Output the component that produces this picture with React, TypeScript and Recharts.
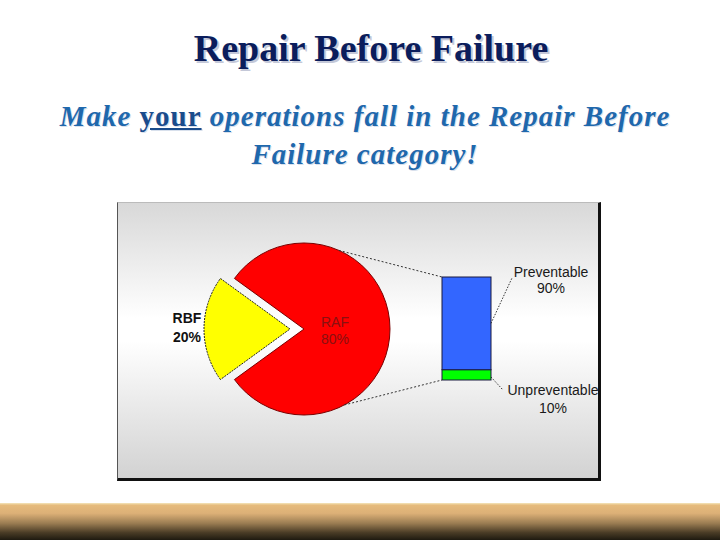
import React from "react";
import { PieChart, Pie, Cell, BarChart, Bar, XAxis, YAxis } from "recharts";

// pie: share of repair types (percent)
const pieNames = ["RAF", "RBF"];
const pieValues = [80, 20];
const pieColors = ["#ff0000", "#ffff00"];

// breakdown bar of the RAF slice (percent)
const barNames = ["Unpreventable", "Preventable"];
const barValues = [10, 90];
const barColors = ["#00ff00", "#3366ff"];

const pieData = pieNames.map((name, i) => ({ name, value: pieValues[i] }));
const barData = [
  barNames.reduce<Record<string, number | string>>(
    (row, name, i) => {
      row[name] = barValues[i];
      return row;
    },
    { name: "RAF" }
  ),
];

// frame layout
const FRAME_W = 484;
const FRAME_H = 279;
const PIE_CX = 187;
const PIE_CY = 127;
const PIE_R = 86;
const EXPLODE = 14;
const RAD = Math.PI / 180;

const piePoint = (deg: number) => ({
  x: PIE_CX + PIE_R * Math.cos(deg * RAD),
  y: PIE_CY - PIE_R * Math.sin(deg * RAD),
});
const pieTop = piePoint(66);
const pieBottom = piePoint(-62);

const labelFont = "'Liberation Sans', Arial, sans-serif";

function renderPieLabel(props: any, visibleIndex: number) {
  const { cx, cy, midAngle, outerRadius, index, name, value } = props;
  if (index !== visibleIndex) return null;
  const inside = index === 0;
  const r = inside ? outerRadius * 0.36 : outerRadius + 17;
  const x = cx + r * Math.cos(-midAngle * RAD);
  const y = cy + r * Math.sin(-midAngle * RAD);
  return (
    <text
      x={x}
      y={y}
      textAnchor="middle"
      fontFamily={labelFont}
      fontSize={14}
      fontWeight={inside ? 400 : 700}
      fill={inside ? "#8a1010" : "#111"}
    >
      <tspan x={x} dy={inside ? -2 : -6}>
        {name}
      </tspan>
      <tspan x={x} dy={inside ? 17 : 19} fontWeight={inside ? 400 : 600}>
        {value}%
      </tspan>
    </text>
  );
}

const TopSegment = (props: any) => {
  const { x, y, width, height, fill, payload } = props;
  const name = barNames[1];
  const tx = x + width + 60;
  return (
    <g>
      <line x1={pieTop.x} y1={pieTop.y} x2={x} y2={y} stroke="#333" strokeWidth={1} strokeDasharray="2 2" />
      <rect x={x} y={y} width={width} height={height} fill={fill} stroke="#1a1a40" strokeWidth={1} />
      <line x1={x + width} y1={y + height / 2} x2={x + width + 21} y2={y + 1} stroke="#333" strokeWidth={1} strokeDasharray="1.5 1.5" />
      <text x={tx} y={y} textAnchor="middle" fontFamily={labelFont} fontSize={14} fill="#1a1a1a">
        {name}
      </text>
      <text x={tx} y={y + 16} textAnchor="middle" fontFamily={labelFont} fontSize={14} fill="#1a1a1a">
        {payload[name]}%
      </text>
    </g>
  );
};

const BottomSegment = (props: any) => {
  const { x, y, width, height, fill, payload } = props;
  const name = barNames[0];
  const tx = x + width + 62;
  const bottom = y + height;
  return (
    <g>
      <line x1={pieBottom.x} y1={pieBottom.y} x2={x} y2={bottom} stroke="#333" strokeWidth={1} strokeDasharray="2 2" />
      <rect x={x} y={y} width={width} height={height} fill={fill} stroke="#1a1a40" strokeWidth={1} />
      <line x1={x + width} y1={bottom - 3} x2={x + width + 12} y2={bottom + 10} stroke="#333" strokeWidth={1} strokeDasharray="1.5 1.5" />
      <text x={tx} y={bottom + 15} textAnchor="middle" fontFamily={labelFont} fontSize={14} fill="#1a1a1a">
        {name}
      </text>
      <text x={tx} y={bottom + 33} textAnchor="middle" fontFamily={labelFont} fontSize={14} fill="#1a1a1a">
        {payload[name]}%
      </text>
    </g>
  );
};

export default function App() {
  return (
    <div
      style={{
        position: "absolute",
        left: 0,
        top: 0,
        width: 720,
        height: 540,
        background: "#fff",
        overflow: "hidden",
      }}
    >
      <div
        style={{
          position: "absolute",
          top: 29,
          left: 0,
          width: 742,
          textAlign: "center",
          fontFamily: "'Liberation Serif', 'Times New Roman', serif",
          fontWeight: 700,
          fontSize: 38,
          lineHeight: "38px",
          color: "#0b1d5c",
          textShadow: "2px 2px 0 #c4c8d8",
        }}
      >
        Repair Before Failure
      </div>
      <div
        style={{
          position: "absolute",
          top: 97,
          left: 0,
          width: 730,
          textAlign: "center",
          fontFamily: "'Liberation Serif', 'Times New Roman', serif",
          fontStyle: "italic",
          fontWeight: 700,
          fontSize: 29,
          letterSpacing: 1,
          lineHeight: "38px",
          color: "#1f68ac",
          textShadow: "1px 1px 0 #d8e0ec",
        }}
      >
        Make{" "}
        <span style={{ fontStyle: "normal", textDecoration: "underline", color: "#1a4c8c" }}>
          your
        </span>{" "}
        operations fall in the Repair Before
        <br />
        Failure category!
      </div>

      <div
        style={{
          position: "absolute",
          left: 117,
          top: 202,
          width: FRAME_W,
          height: FRAME_H,
          boxSizing: "border-box",
          background: "linear-gradient(#d8d8d8 0%, #ffffff 42%, #ffffff 50%, #d2d2d2 100%)",
          borderLeft: "1px solid #555",
          borderTop: "1px solid #bbb",
          borderRight: "3px solid #111",
          borderBottom: "3px solid #111",
        }}
      >
        <div style={{ position: "absolute", left: -1, top: -1 }}>
          <PieChart width={FRAME_W} height={FRAME_H} margin={{ top: 0, right: 0, bottom: 0, left: 0 }}>
            <Pie
              data={pieData}
              dataKey="value"
              nameKey="name"
              cx={PIE_CX}
              cy={PIE_CY}
              outerRadius={PIE_R}
              startAngle={144}
              endAngle={-216}
              isAnimationActive={false}
              labelLine={false}
              label={(p: any) => renderPieLabel(p, 0)}
            >
              {pieData.map((d, i) => (
                <Cell
                  key={d.name}
                  fill={i === 0 ? pieColors[i] : "transparent"}
                  stroke={i === 0 ? "#7a0000" : "none"}
                  strokeWidth={1}
                />
              ))}
            </Pie>
            <Pie
              data={pieData}
              dataKey="value"
              nameKey="name"
              cx={PIE_CX - EXPLODE}
              cy={PIE_CY}
              outerRadius={PIE_R}
              startAngle={144}
              endAngle={-216}
              isAnimationActive={false}
              labelLine={false}
              label={(p: any) => renderPieLabel(p, 1)}
            >
              {pieData.map((d, i) => (
                <Cell
                  key={d.name}
                  fill={i === 1 ? pieColors[i] : "transparent"}
                  stroke={i === 1 ? "#222" : "none"}
                  strokeWidth={1}
                  strokeDasharray={i === 1 ? "2 1" : undefined}
                />
              ))}
            </Pie>
          </PieChart>
        </div>
        <div style={{ position: "absolute", left: -1, top: -1 }}>
          <BarChart
            width={FRAME_W}
            height={FRAME_H}
            data={barData}
            margin={{ top: 75, right: 110, bottom: 101, left: 325 }}
            barCategoryGap={0}
          >
            <XAxis dataKey="name" hide />
            <YAxis hide domain={[0, 100]} />
            <Bar
              dataKey={barNames[0]}
              stackId="a"
              fill={barColors[0]}
              isAnimationActive={false}
              shape={BottomSegment}
            />
            <Bar
              dataKey={barNames[1]}
              stackId="a"
              fill={barColors[1]}
              isAnimationActive={false}
              shape={TopSegment}
            />
          </BarChart>
        </div>
      </div>

      <div
        style={{
          position: "absolute",
          left: 0,
          top: 503,
          width: 720,
          height: 37,
          background:
            "linear-gradient(#f4e6bc 0%, #e6bb7c 6%, #dcb077 28%, #9a7c52 55%, #4a3c26 80%, #1e1a10 100%)",
        }}
      />
    </div>
  );
}
